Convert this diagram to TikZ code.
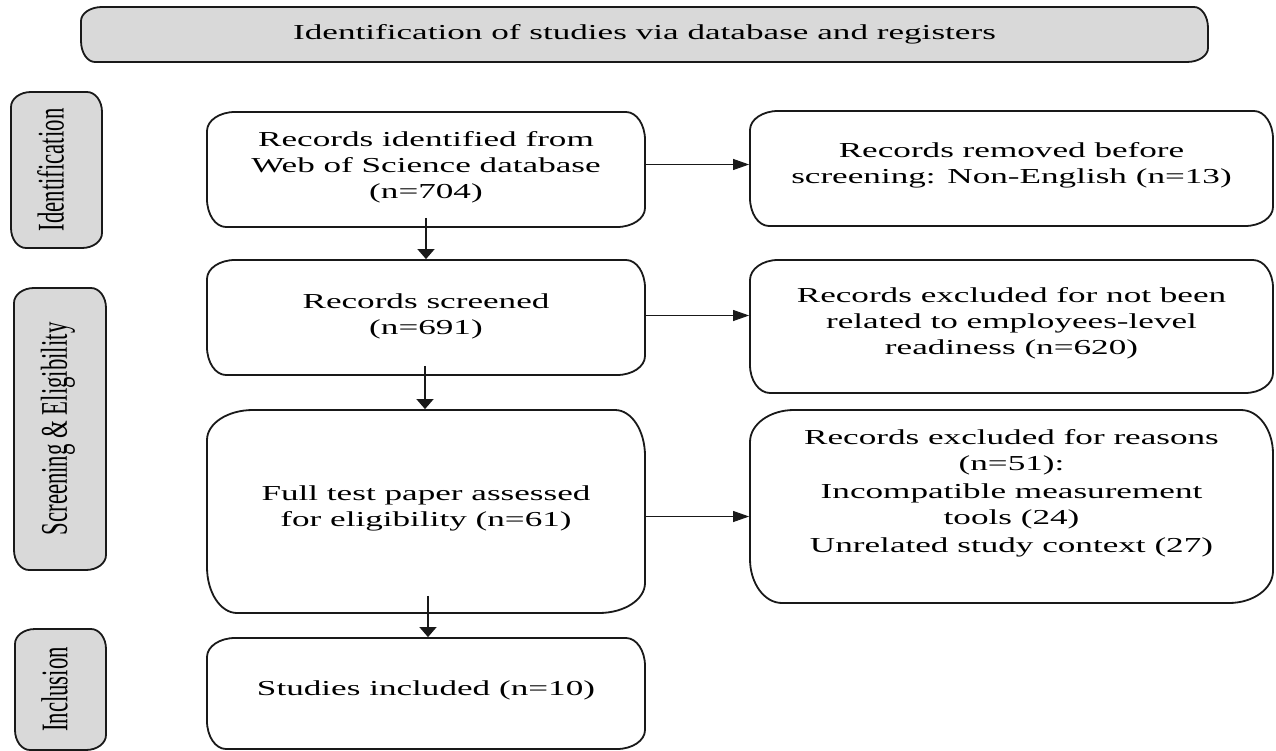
\documentclass[tikz,border=0pt]{standalone}
\usepackage{fontspec}
\setmainfont{Liberation Serif}[FakeStretch=1.65]
\newfontfamily\plainserif{Liberation Serif}
\usetikzlibrary{arrows.meta,calc}
\makeatletter
\tikzset{
  ell corners/.code 2 args={\tikz@addoption{\pgfsetcornersarced{\pgfpoint{#1}{#2}}}},
}
\makeatother
\tikzset{
  box/.style={draw=black!90, line width=1.8pt, fill=white, inner sep=0pt,
    text=black, font=\fontsize{21.3}{26}\selectfont},
  graybox/.style={box, fill=gray!30},
  harr/.style={line width=1pt, draw=black!90, -{Triangle[length=16pt,width=11pt]}},
  varr/.style={line width=1.3pt, draw=black!90, -{Triangle[length=10pt,width=17pt]}},
}
\newcommand{\sidelabel}[2]{\kern-#1\scalebox{1.65}[1]{\rotatebox{90}{\plainserif\fontsize{22.8}{27}\selectfont #2}}}
\newcommand{\txt}[2]{\raisebox{#1}[\height][\depth]{\begin{tabular}{@{}c@{}}#2\end{tabular}}}
\begin{document}
\begin{tikzpicture}[x=1pt,y=-1pt]
\useasboundingbox (0,0) rectangle (1276,751);

% header
\node[graybox, minimum width=1127pt, minimum height=55pt, ell corners={21pt}{14pt}]
      (head) at (644.5,34.5)
      {\txt{0pt}{Identification of studies via database and registers}};

% side labels
\node[graybox, minimum width=91pt, minimum height=156pt, ell corners={20pt}{15pt}]
      (lid) at (56.5,170) {\sidelabel{12pt}{Identification}};
\node[graybox, minimum width=92pt, minimum height=282pt, ell corners={20pt}{15pt}]
      (lse) at (60,429) {\sidelabel{4pt}{Screening \& Eligibility}};
\node[graybox, minimum width=91pt, minimum height=121pt, ell corners={20pt}{15pt}]
      (lin) at (60.5,689.5) {\sidelabel{12pt}{Inclusion}};

% left column
\node[box, minimum width=438pt, minimum height=115pt, ell corners={28pt}{19pt}]
      (A) at (426,169.5) {\txt{2.5pt}{Records identified from\\Web of Science database\\(n=704)}};
\node[box, minimum width=438pt, minimum height=115pt, ell corners={28pt}{19pt}]
      (B) at (426,317.5) {\txt{1pt}{Records screened\\(n=691)}};
\node[box, minimum width=438pt, minimum height=203pt, ell corners={46pt}{30pt}]
      (C) at (426,511.5) {\txt{3pt}{Full test paper assessed\\for eligibility (n=61)}};
\node[box, minimum width=438pt, minimum height=111pt, ell corners={28pt}{19pt}]
      (D) at (426,693.5) {\txt{3pt}{Studies included (n=10)}};

% right column
\node[box, minimum width=523pt, minimum height=115pt, ell corners={28pt}{19pt}]
      (E) at (1011.5,168.5) {\txt{3pt}{Records removed before\\screening: Non-English (n=13)}};
\node[box, minimum width=523pt, minimum height=133pt, ell corners={28pt}{20pt}]
      (F) at (1011.5,326.5) {\txt{3pt}{Records excluded for not been\\related to employees-level\\readiness (n=620)}};
\node[box, minimum width=523pt, minimum height=193pt, ell corners={44pt}{32pt}]
      (G) at (1011.5,506.5) {\txt{13.5pt}{Records excluded for reasons\\(n=51):\\[2pt]Incompatible measurement\\tools (24)\\[2pt]Unrelated study context (27)}};

% vertical arrows
\draw[varr] ([yshift=10pt]A.south) -- (B.north);
\draw[varr] ([yshift=10pt,xshift=-1pt]B.south) -- ([xshift=-1pt]B.south |- C.north);
\draw[varr] ([yshift=18pt,xshift=2pt]C.south) -- ([xshift=2pt]C.south |- D.north);

% horizontal arrows
\draw[harr] ([yshift=5pt]A.east) -- ([yshift=5pt]A.east -| E.west);
\draw[harr] ([yshift=2pt]B.east) -- ([yshift=2pt]B.east -| F.west);
\draw[harr] ([yshift=-5pt]C.east) -- ([yshift=-5pt]C.east -| G.west);
\end{tikzpicture}
\end{document}
